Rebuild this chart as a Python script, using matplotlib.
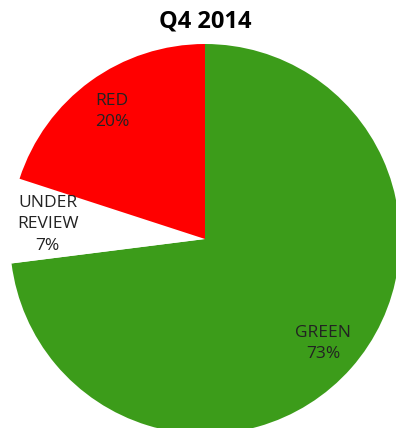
import matplotlib
matplotlib.use('Agg')
import matplotlib.pyplot as plt

title = 'Q4 2014'
categories = ['GREEN', 'UNDER\nREVIEW', 'RED']
shares = [73, 7, 20]
colours = ['#3c9c1a', '#ffffff', '#ff0000']

plt.rcParams['font.family'] = ['Open Sans', 'DejaVu Sans']

fig = plt.figure(figsize=(3.96, 4.28), dpi=100)
ax = fig.add_axes([0, 0, 1, 1])

def pct_label(pct):
    idx = min(range(len(shares)), key=lambda i: abs(shares[i] - pct))
    return '%s\n%d%%' % (categories[idx], round(pct))

ax.pie(shares, colors=colours, startangle=90, counterclock=False,
       autopct=pct_label, pctdistance=0.81,
       textprops={'fontsize': 12.5, 'color': '#222222', 'linespacing': 1.45},
       wedgeprops={'linewidth': 0})

# pie is bigger than the figure, so it runs off the right and bottom
ax.set_xlim(-205 / 195, 191 / 195)
ax.set_ylim(-189 / 195, 239 / 195)
ax.set_aspect('equal')
ax.axis('off')

ax.text(0, 1.113, title, ha='center', va='center', fontsize=17, fontweight='bold')

fig.savefig('out.png', dpi=100)
